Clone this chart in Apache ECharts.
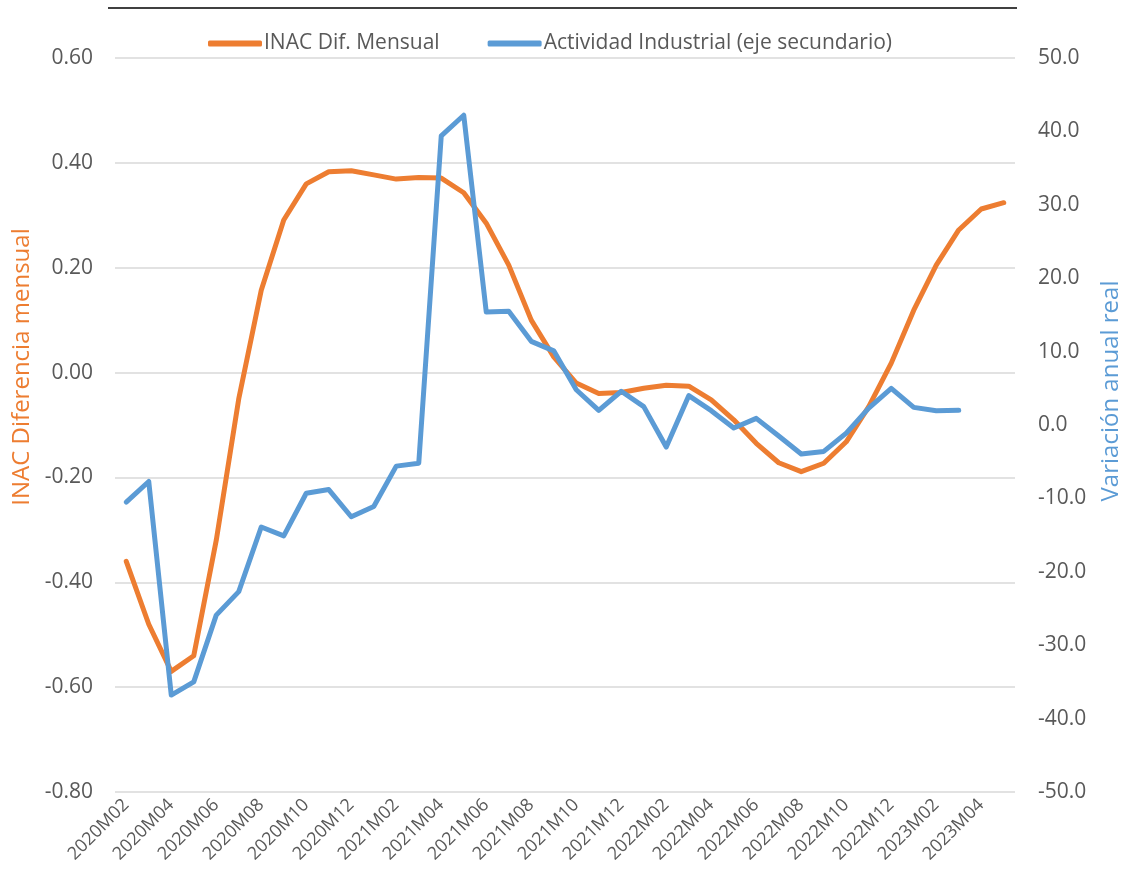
<!DOCTYPE html>
<html>
<head>
<meta charset="utf-8">
<script src="https://cdn.jsdelivr.net/npm/echarts@6/dist/echarts.min.js"></script>
<style>
  html, body { margin: 0; padding: 0; background: #fff; }
  #chart { width: 1127px; height: 878px; }
</style>
</head>
<body>
<div id="chart"></div>
<script>
// meses 2020M02 .. 2023M05
var months = []
for (var y = 2020; y <= 2023; y++) {
  for (var m = 1; m <= 12; m++) {
    if (y === 2020 && m < 2) continue
    if (y === 2023 && m > 5) continue
    months.push(y + 'M' + (m < 10 ? '0' + m : m))
  }
}

// INAC diferencia mensual (eje izquierdo)
var inacDif = [
  -0.36, -0.48, -0.57, -0.54, -0.32, -0.05, 0.157, 0.291, 0.36, 0.383,
  0.385, 0.377, 0.369, 0.372, 0.371, 0.343, 0.285, 0.205, 0.10, 0.03,
  -0.02, -0.04, -0.038, -0.03, -0.024, -0.026, -0.052, -0.09, -0.135, -0.172,
  -0.189, -0.173, -0.132, -0.065, 0.018, 0.119, 0.205, 0.272, 0.312, 0.324
]

// Actividad industrial, variación anual real (eje secundario)
var actIndustrial = [
  -10.5, -7.7, -36.8, -35.0, -25.9, -22.7, -13.9, -15.1, -9.3, -8.8,
  -12.5, -11.1, -5.6, -5.2, 39.4, 42.2, 15.4, 15.5, 11.4, 10.1,
  4.8, 2.0, 4.6, 2.5, -3.0, 4.0, 1.95, -0.4, 0.9, -1.5,
  -3.95, -3.6, -1.1, 2.3, 5.0, 2.4, 1.95, 2.0, null, null
]

var labelColor = '#595959'
var fontFam = '"Open Sans", "Noto Sans", sans-serif'

var chart = echarts.init(document.getElementById('chart'))
chart.setOption({
  animation: false,
  textStyle: { fontFamily: fontFam },
  grid: { left: 115, right: 112, top: 58, bottom: 86, outerBoundsMode: 'none' },
  legend: {
    top: 28,
    left: 203,
    itemWidth: 54,
    itemHeight: 6,
    itemGap: 48,
    icon: 'roundRect',
    textStyle: { fontSize: 21, color: labelColor, fontFamily: fontFam, padding: [0, 0, 0, -3] },
    data: ['INAC Dif. Mensual', 'Actividad Industrial (eje secundario)']
  },
  graphic: [{
    type: 'line',
    shape: { x1: 108, y1: 8, x2: 1017, y2: 8 },
    style: { stroke: '#000', lineWidth: 1.5 }
  }],
  xAxis: {
    type: 'category',
    data: months,
    boundaryGap: true,
    axisLine: { show: false },
    axisTick: { show: false },
    axisLabel: {
      interval: 1,
      rotate: 45,
      margin: 10,
      fontSize: 18,
      color: labelColor
    }
  },
  yAxis: [{
    type: 'value',
    min: -0.8,
    max: 0.6,
    interval: 0.2,
    name: 'INAC Diferencia mensual',
    nameLocation: 'middle',
    nameGap: 80,
    nameTextStyle: { color: '#ED7D31', fontSize: 24, padding: [0, 0, 0, 116] },
    axisLine: { show: false },
    axisTick: { show: false },
    axisLabel: {
      fontSize: 21,
      color: labelColor,
      margin: 22,
      formatter: function (v) { return v.toFixed(2) }
    },
    splitLine: { lineStyle: { color: '#d9d9d9', width: 1.5 } }
  }, {
    type: 'value',
    min: -50,
    max: 50,
    interval: 10,
    name: 'Variación anual real',
    nameLocation: 'middle',
    nameGap: 84,
    nameTextStyle: { color: '#5B9BD5', fontSize: 24, padding: [0, 0, 0, 68] },
    axisLine: { show: false },
    axisTick: { show: false },
    axisLabel: {
      fontSize: 21,
      color: labelColor,
      margin: 23,
      formatter: function (v) { return v.toFixed(1) }
    },
    splitLine: { show: false }
  }],
  series: [{
    name: 'INAC Dif. Mensual',
    type: 'line',
    yAxisIndex: 0,
    data: inacDif,
    showSymbol: false,
    symbol: 'none',
    lineStyle: { color: '#ED7D31', width: 5, cap: 'round', join: 'round' },
    itemStyle: { color: '#ED7D31' }
  }, {
    name: 'Actividad Industrial (eje secundario)',
    type: 'line',
    yAxisIndex: 1,
    data: actIndustrial,
    showSymbol: false,
    symbol: 'none',
    lineStyle: { color: '#5B9BD5', width: 5, cap: 'round', join: 'round' },
    itemStyle: { color: '#5B9BD5' }
  }]
})
</script>
</body>
</html>
